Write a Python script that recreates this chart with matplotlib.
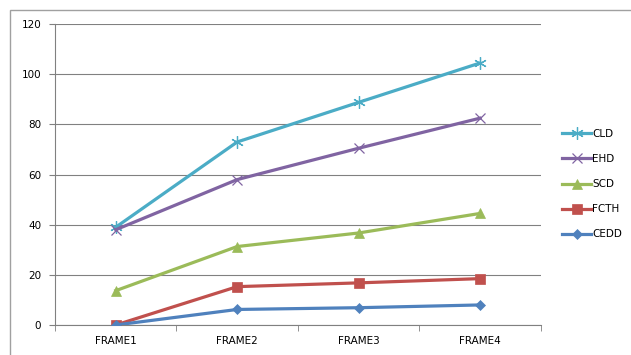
import matplotlib
matplotlib.use("Agg")
import matplotlib.pyplot as plt
from matplotlib.patches import Rectangle

# data
frames = ["FRAME1", "FRAME2", "FRAME3", "FRAME4"]
cld = [39, 73, 88.8, 104.5]
ehd = [38, 58, 70.5, 82.5]
scd = [13.7, 31.3, 36.7, 44.5]
fcth = [0, 15.3, 16.8, 18.5]
cedd = [0, 6.2, 6.9, 8.0]

series = [
    ("CLD", cld, "#4BACC6", (6, 2, 0), 9),
    ("EHD", ehd, "#8064A2", "x", 7),
    ("SCD", scd, "#9BBB59", "^", 7),
    ("FCTH", fcth, "#C0504D", "s", 7),
    ("CEDD", cedd, "#4F81BD", "D", 5),
]

fig = plt.figure(figsize=(6.31, 3.55), dpi=100)
ax = fig.add_axes([0.0872, 0.0845, 0.7698, 0.8475])

# outer chart border
fig.patches.append(Rectangle((10 / 631, -0.01), 1.0, 1 - 9.5 / 355 + 0.01,
                             transform=fig.transFigure, fill=False,
                             edgecolor="#A0A0A0", linewidth=1.0))

x = range(len(frames))
handles = []
for name, vals, color, marker, ms in series:
    thin = not isinstance(marker, str) or marker == "x"
    h, = ax.plot(x, vals, color=color, linewidth=2.3, marker=marker,
                 markersize=ms, markeredgewidth=0.9 if thin else 0.5,
                 markeredgecolor=color, label=name, zorder=3)
    handles.append(h)

ax.set_xlim(-0.5, 3.5)
ax.set_ylim(0, 120)
ax.set_yticks(range(0, 121, 20))
ax.set_xticks(list(x))
ax.set_xticklabels(frames)
ax.set_xticks([-0.5, 0.5, 1.5, 2.5, 3.5], minor=True)
ax.tick_params(axis="x", which="major", length=0, pad=8, labelsize=7.5)
ax.tick_params(axis="x", which="minor", length=4, color="#808080", direction="out")
ax.tick_params(axis="y", length=4, color="#808080", labelsize=7.5, pad=6)

ax.grid(axis="y", color="#808080", linewidth=0.8)
ax.set_axisbelow(True)
for side in ["top", "right"]:
    ax.spines[side].set_visible(False)
for side in ["left", "bottom"]:
    ax.spines[side].set_color("#808080")
    ax.spines[side].set_linewidth(0.8)

ax.legend(handles=handles, loc="center left", bbox_to_anchor=(1.025, 0.468),
          frameon=False, fontsize=7.5, handlelength=2.8, handletextpad=0.1,
          labelspacing=1.45)

fig.savefig("out.png", dpi=100)
